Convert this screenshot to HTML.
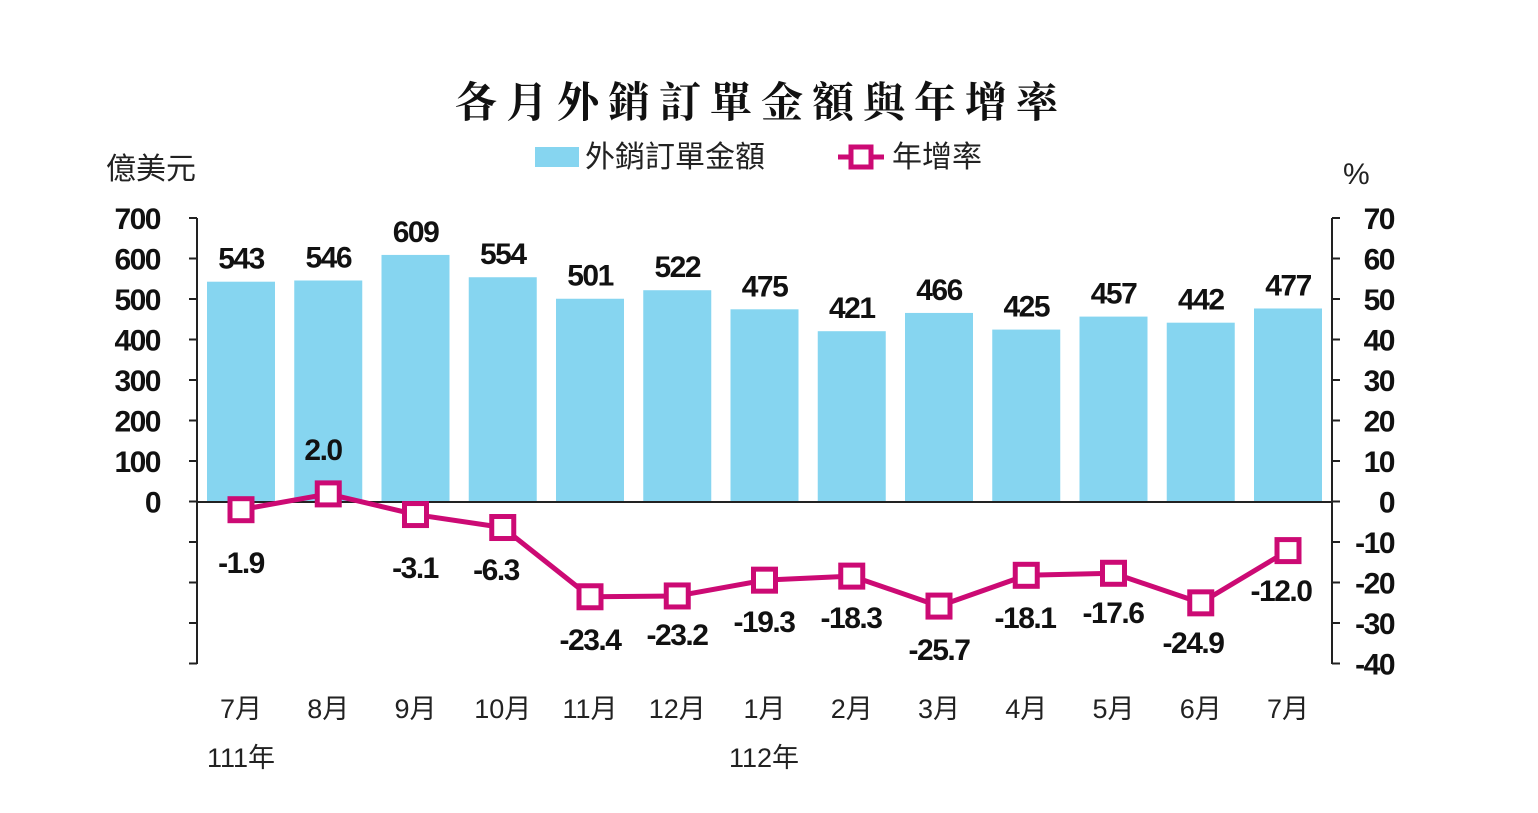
<!DOCTYPE html>
<html><head><meta charset="utf-8"><style>
html,body{margin:0;padding:0;background:#fff;}
svg{display:block;}
.n{font-family:"Liberation Sans Narrow","Liberation Sans",sans-serif;font-weight:bold;font-size:30px;letter-spacing:-1.5px;fill:#111;}
.c{font-family:"Liberation Sans","Noto Sans CJK TC",sans-serif;font-size:27px;fill:#222;}
.l{font-family:"Liberation Sans","Noto Sans CJK TC",sans-serif;font-size:30px;fill:#222;}
</style></head><body>
<svg width="1538" height="813" viewBox="0 0 1538 813" xmlns="http://www.w3.org/2000/svg">
<text x="761" y="117" text-anchor="middle" font-family="'Noto Serif CJK SC',serif" font-size="42" font-weight="bold" letter-spacing="9" fill="#111">各月外銷訂單金額與年增率</text>
<rect x="535" y="147" width="44" height="20" fill="#86d5f0"/>
<text x="585" y="167" class="l">外銷訂單金額</text>
<line x1="838" y1="157" x2="884" y2="157" stroke="#cc0a74" stroke-width="5"/>
<rect x="851" y="147" width="20" height="20" fill="#fff" stroke="#cc0a74" stroke-width="5"/>
<text x="892" y="167" class="l">年增率</text>
<text x="106" y="179" class="l">億美元</text>
<text x="1343" y="184" class="l">%</text>
<g id="bars" fill="#86d5f0"></g>
<g stroke="#222" stroke-width="2" fill="none">
<line x1="197" y1="218" x2="197" y2="664"/>
<line x1="1332" y1="218" x2="1332" y2="664"/>
<line x1="197" y1="502" x2="1332" y2="502"/>
</g>
<g id="ticks" stroke="#222" stroke-width="2"></g>
<g id="lab"></g>
<polyline id="line" fill="none" stroke="#cc0a74" stroke-width="5" stroke-linejoin="round"/>
<g id="mk"></g>
<g id="rl"></g>
<text x="241" y="767" class="c" text-anchor="middle">111年</text>
<text x="764" y="767" class="c" text-anchor="middle">112年</text>
</svg>
<script>
(function(){
var NS="http://www.w3.org/2000/svg";
function el(p,t,a,txt){var e=document.createElementNS(NS,t);for(var k in a)e.setAttribute(k,a[k]);if(txt!=null)e.textContent=txt;document.getElementById(p).appendChild(e);return e;}
var vals=[543,546,609,554,501,522,475,421,466,425,457,442,477];
var rates=[-1.9,2.0,-3.1,-6.3,-23.4,-23.2,-19.3,-18.3,-25.7,-18.1,-17.6,-24.9,-12.0];
var months=["7月","8月","9月","10月","11月","12月","1月","2月","3月","4月","5月","6月","7月"];
var rl=[[241,573],[323,460],[415,578],[496,580],[590,650],[677,645],[764,632],[851,628],[939,660],[1025,628],[1113,623],[1193,653],[1281,601]];
var pts=[];
for(var i=0;i<13;i++){
 var x=241+i*87.25;
 var bt=502-vals[i]*0.4057;
 el("bars","rect",{x:x-34,y:bt,width:68,height:502-bt});
 el("lab","text",{x:x,y:bt-13,"text-anchor":"middle",class:"n"},String(vals[i]));
 el("lab","text",{x:x,y:718,"text-anchor":"middle",class:"c"},months[i]);
 var y=502-rates[i]*4.05;pts.push(x+","+y);
 el("mk","rect",{x:x-11,y:y-11,width:22,height:22,fill:"#fff",stroke:"#cc0a74","stroke-width":5});
 el("rl","text",{x:rl[i][0],y:rl[i][1],"text-anchor":"middle",class:"n"},rates[i].toFixed(1));
}
document.getElementById("line").setAttribute("points",pts.join(" "));
for(var j=0;j<=11;j++){
 var yy=218+j*40.5;
 el("ticks","line",{x1:189,y1:yy,x2:197,y2:yy});
 el("ticks","line",{x1:1332,y1:yy,x2:1340,y2:yy});
 if(j<=7) el("lab","text",{x:160,y:yy+11,"text-anchor":"end",class:"n"},String(700-j*100));
 el("lab","text",{x:1394,y:yy+11,"text-anchor":"end",class:"n"},String(70-j*10));
}
})();
</script>
</body></html>
